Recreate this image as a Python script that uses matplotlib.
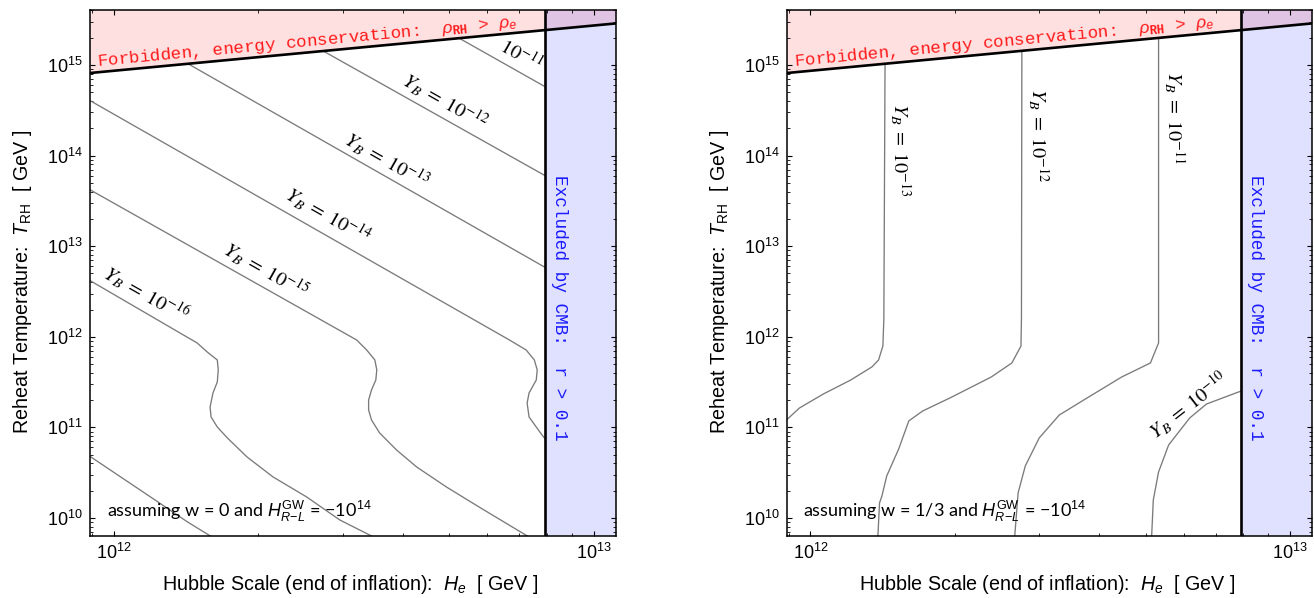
import numpy as np
import matplotlib
matplotlib.use('Agg')
import matplotlib.pyplot as plt
from matplotlib.patches import Polygon
from matplotlib.ticker import LogLocator, NullFormatter

plt.rcParams['font.family'] = ['Liberation Sans', 'DejaVu Sans']
plt.rcParams['mathtext.fontset'] = 'custom'
plt.rcParams['mathtext.rm'] = 'Liberation Sans'
plt.rcParams['mathtext.it'] = 'Liberation Sans:italic'
plt.rcParams['mathtext.bf'] = 'Liberation Sans:bold'
plt.rcParams['mathtext.tt'] = 'Liberation Mono:bold'

# ---------------- data (log10 values) ----------------
X_LOG_RANGE = [11.951, 13.046]      # log10 H_e [GeV]
Y_LOG_RANGE = [9.801, 15.607]       # log10 T_RH [GeV]
CMB_LOG_H = 12.898                  # r > 0.1 boundary
FORBID_LOGH = [11.90, 13.10]        # rho_RH = rho_e boundary
FORBID_LOGT = [14.886, 15.486]

# Left panel (w = 0) contours of Y_B
L_C11_H = [12.676, 12.95]
L_C11_T = [15.426, 14.606]
L_C12_H = [12.40, 12.95]
L_C12_T = [15.263, 13.625]
L_C13_H = [12.10, 12.95]
L_C13_T = [15.18, 12.61]
L_C14_H = [11.90, 11.956, 12.824, 12.859, 12.876, 12.882, 12.880, 12.865, 12.861, 12.865, 12.880, 12.892, 12.917]
L_C14_T = [14.76, 14.592, 11.965, 11.854, 11.744, 11.634, 11.523, 11.380, 11.269, 11.115, 11.004, 10.916, 10.751]
L_C15_H = [11.90, 11.952, 12.506, 12.527, 12.544, 12.548, 12.546, 12.537, 12.531, 12.531, 12.537, 12.554,
           12.589, 12.631, 12.693, 12.761, 12.830, 12.865, 12.88]
L_C15_T = [13.78, 13.620, 11.965, 11.854, 11.744, 11.634, 11.523, 11.413, 11.302, 11.192, 11.082, 10.938,
           10.751, 10.563, 10.342, 10.121, 9.901, 9.790, 9.74]
L_C16_H = [11.90, 11.956, 12.174, 12.195, 12.216, 12.218, 12.216, 12.207, 12.201, 12.203, 12.216, 12.237,
           12.278, 12.332, 12.402, 12.471, 12.533, 12.554]
L_C16_T = [12.78, 12.605, 11.932, 11.832, 11.744, 11.634, 11.501, 11.380, 11.225, 11.115, 11.004, 10.883,
           10.673, 10.453, 10.232, 9.978, 9.812, 9.757]
L_C17_H = [11.90, 11.956, 12.077, 12.154, 12.205, 12.23]
L_C17_T = [10.88, 10.662, 10.232, 9.956, 9.790, 9.70]

L_LABELS = [r'$10^{-11}$', r'$Y_B\;=\;10^{-12}$', r'$Y_B\;=\;10^{-13}$',
            r'$Y_B\;=\;10^{-14}$', r'$Y_B\;=\;10^{-15}$', r'$Y_B\;=\;10^{-16}$']
L_LABEL_H = [12.849, 12.691, 12.568, 12.446, 12.317, 12.068]
L_LABEL_T = [15.110, 14.592, 13.951, 13.344, 12.737, 12.472]

# Right panel (w = 1/3) contours of Y_B
R_C13_H = [12.156, 12.153, 12.151, 12.142, 12.128, 12.084, 12.027, 11.977, 11.950, 11.914]
R_C13_T = [15.6, 12.2, 11.898, 11.744, 11.667, 11.523, 11.369, 11.214, 11.082, 10.971]
R_C12_H = [12.441, 12.440, 12.439, 12.420, 12.377, 12.291, 12.234, 12.205, 12.184, 12.159, 12.149, 12.144, 12.140]
R_C12_T = [15.6, 12.2, 11.898, 11.711, 11.556, 11.325, 11.181, 11.071, 10.762, 10.464, 10.243, 10.166, 9.735]
R_C11_H = [12.726, 12.726, 12.709, 12.649, 12.577, 12.519, 12.477, 12.448, 12.433, 12.425]
R_C11_T = [15.6, 11.932, 11.711, 11.556, 11.325, 11.137, 10.883, 10.574, 10.276, 9.735]
R_C10_H = [12.939, 12.893, 12.826, 12.791, 12.747, 12.726, 12.715, 12.711]
R_C10_T = [11.468, 11.391, 11.258, 11.104, 10.806, 10.508, 10.199, 9.735]

R_LABELS = [r'$Y_B\;=\;10^{-13}$', r'$Y_B\;=\;10^{-12}$', r'$Y_B\;=\;10^{-11}$', r'$Y_B\;=\;10^{-10}$']
R_LABEL_H = [12.188, 12.475, 12.759, 12.789]
R_LABEL_T = [14.062, 14.227, 14.415, 11.247]
R_LABEL_ROT = [-90, -90, -90, 38]

NOTES = [r'assuming w = 0 and $H^{\rm GW}_{R\!-\!L}$ = −10$^{14}$',
         r'assuming w = 1/3 and $H^{\rm GW}_{R\!-\!L}$ = −10$^{14}$']

CONTOUR_COLOR = '#7a7a7a'


def setup_axes(ax):
    xmin, xmax = 10 ** X_LOG_RANGE[0], 10 ** X_LOG_RANGE[1]
    ymin, ymax = 10 ** Y_LOG_RANGE[0], 10 ** Y_LOG_RANGE[1]
    ax.set_xscale('log')
    ax.set_yscale('log')
    ax.set_xlim(xmin, xmax)
    ax.set_ylim(ymin, ymax)
    for axis in (ax.xaxis, ax.yaxis):
        axis.set_major_locator(LogLocator(base=10, numticks=20))
        axis.set_minor_locator(LogLocator(base=10, subs=np.arange(2, 10), numticks=20))
        axis.set_minor_formatter(NullFormatter())
    ax.tick_params(which='both', direction='in', top=True, right=True, colors='black')
    ax.tick_params(which='major', length=3.8, width=0.8, labelsize=13, pad=5)
    ax.tick_params(which='minor', length=2.3, width=0.6)
    for sp in ax.spines.values():
        sp.set_linewidth(1.1)
    ax.set_xlabel(r'Hubble Scale (end of inflation):  $H_e$  [ GeV ]', fontsize=14.2)
    ax.set_ylabel(r'Reheat Temperature:  $T_{\rm RH}$  [ GeV ]', fontsize=14.2)
    ax.xaxis.set_label_coords(0.495, -0.070)
    ax.yaxis.set_label_coords(-0.106, 0.483)

    cmb = 10 ** CMB_LOG_H
    fh = 10 ** np.array(FORBID_LOGH)
    ft = 10 ** np.array(FORBID_LOGT)
    ax.fill_between(fh, ft, ymax * 10, color='red', alpha=0.12, lw=0, zorder=1)
    ax.axvspan(cmb, xmax * 10, color='blue', alpha=0.12, lw=0, zorder=1)
    ax.plot(fh, ft, color='black', lw=1.9, zorder=4, solid_capstyle='butt')
    ax.axvline(cmb, color='black', lw=1.9, zorder=4)

    t_cmb = 10 ** np.interp(CMB_LOG_H, FORBID_LOGH, FORBID_LOGT)
    clip = Polygon([(fh[0], ymin / 10), (cmb, ymin / 10), (cmb, t_cmb), (fh[0], ft[0])],
                   closed=True, transform=ax.transData, fill=False, visible=False)
    ax.add_patch(clip)

    # texts on the boundaries
    p0 = ax.transData.transform((fh[0], ft[0]))
    p1 = ax.transData.transform((fh[1], ft[1]))
    ang = np.degrees(np.arctan2(p1[1] - p0[1], p1[0] - p0[0]))
    ax.text(10 ** 11.967, 10 ** 14.989,
            r'Forbidden, energy conservation:  $\rho_{\mathtt{RH}}$ > $\rho_e$',
            family='Liberation Mono', color='#ff1a1a', fontsize=12.6, rotation=ang,
            rotation_mode='anchor', ha='left', va='baseline', zorder=5)
    ax.text(10 ** 12.929, 10 ** 12.32, 'Excluded by CMB:  r > 0.1', family='Liberation Mono',
            color='#1a1aff', fontsize=12.8, rotation=-90, ha='center', va='center', zorder=5)
    return clip


def draw_contours(ax, clip, hs, ts):
    for h, t in zip(hs, ts):
        ln, = ax.plot(10 ** np.array(h), 10 ** np.array(t), color=CONTOUR_COLOR, lw=0.95,
                      zorder=2, solid_joinstyle='round')
        ln.set_clip_path(clip)


fig = plt.figure(figsize=(13.14, 5.98), dpi=100)
axL = fig.add_axes([90 / 1314, 62 / 598, 526 / 1314, 526 / 598])
axR = fig.add_axes([787 / 1314, 62 / 598, 525 / 1314, 526 / 598])

clipL = setup_axes(axL)
draw_contours(axL, clipL,
              [L_C11_H, L_C12_H, L_C13_H, L_C14_H, L_C15_H, L_C16_H, L_C17_H],
              [L_C11_T, L_C12_T, L_C13_T, L_C14_T, L_C15_T, L_C16_T, L_C17_T])
for lab, h, t in zip(L_LABELS, L_LABEL_H, L_LABEL_T):
    axL.text(10 ** h, 10 ** t, lab, math_fontfamily='stix', fontsize=14.5, rotation=-29.5,
             rotation_mode='anchor', ha='center', va='center', zorder=3)
axL.text(0.032, 0.036, NOTES[0], transform=axL.transAxes, family='Lato', fontsize=13,
         ha='left', va='baseline', zorder=5)

clipR = setup_axes(axR)
draw_contours(axR, clipR,
              [R_C13_H, R_C12_H, R_C11_H, R_C10_H],
              [R_C13_T, R_C12_T, R_C11_T, R_C10_T])
for lab, h, t, r in zip(R_LABELS, R_LABEL_H, R_LABEL_T, R_LABEL_ROT):
    axR.text(10 ** h, 10 ** t, lab, math_fontfamily='stix', fontsize=14.5, rotation=r,
             rotation_mode='anchor', ha='center', va='center', zorder=3)
axR.text(0.030, 0.036, NOTES[1], transform=axR.transAxes, family='Lato', fontsize=13,
         ha='left', va='baseline', zorder=5)

fig.savefig('out.png', dpi=100)
